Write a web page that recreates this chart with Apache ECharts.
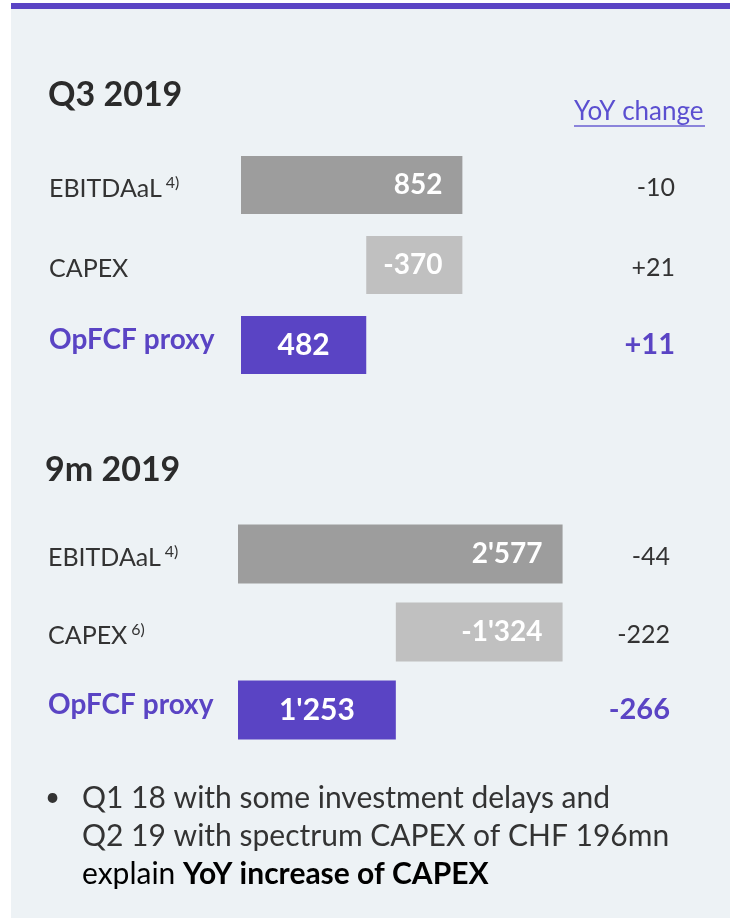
<!DOCTYPE html>
<html>
<head>
<meta charset="utf-8">
<script src="https://cdn.jsdelivr.net/npm/echarts@6/dist/echarts.min.js"></script>
<style>
html, body { margin: 0; padding: 0; background: #fff; }
#main { width: 730px; height: 918px; }
</style>
</head>
<body>
<div id="main"></div>
<script>
// rows of both waterfalls
var rowNames = ['EBITDAaL', 'CAPEX', 'OpFCF proxy'];
var rowKinds = ['start', 'delta', 'total'];

// Q3 2019
var q3Notes = ['4)', '', ''];
var q3Values = [852, -370, 482];
var q3Yoy = ['-10', '+21', '+11'];

// 9m 2019
var m9Notes = ['4)', '6)', ''];
var m9Values = [2577, -1324, 1253];
var m9Yoy = ['-44', '-222', '-266'];

var bulletLines = ['Q1 18 with some investment delays and', 'Q2 19 with spectrum CAPEX of CHF 196mn'];

var FONT = 'Lato';
var PURPLE = '#5a44c4';
var barColors = ['#9d9d9d', '#c0c0c0', PURPLE];

function fmt(v) {
	var s = String(Math.abs(v)).replace(/\B(?=(\d{3})+(?!\d))/g, "'");
	return (v < 0 ? '-' : '') + s;
}

// transparent base + visible length for each row
function waterfall(values) {
	var base = [], len = [], run = 0;
	for (var i = 0; i < values.length; i++) {
		var v = values[i];
		if (rowKinds[i] == 'total') {
			base.push(0); len.push(v); run = v;
		} else if (v >= 0) {
			base.push(run); len.push(v); run += v;
		} else {
			run += v; base.push(run); len.push(-v);
		}
	}
	return {base: base, len: len};
}

var labelRich = {
	n: {fontFamily: FONT, fontSize: 25, color: '#333', padding: [8, 0, 0, 0]},
	s: {fontFamily: FONT, fontSize: 16, color: '#333', verticalAlign: 'top', padding: [6, 0, 0, 4]},
	b: {fontFamily: FONT, fontSize: 28, fontWeight: 'bold', color: PURPLE, padding: [0, 0, 10, 0]}
};

function leftAxis(gi, notes, margin) {
	return {
		type: 'category', gridIndex: gi, inverse: true, data: rowNames,
		axisLine: {show: false}, axisTick: {show: false},
		axisLabel: {
			align: 'left', margin: margin,
			formatter: function(v, i) {
				if (rowKinds[i] == 'total') return '{b|' + v + '}';
				return '{n|' + v + '}' + (notes[i] ? '{s|' + notes[i] + '}' : '');
			},
			rich: labelRich
		}
	};
}

function rightAxis(gi, yoy, margin) {
	return {
		type: 'category', gridIndex: gi, inverse: true, position: 'right', data: yoy,
		axisLine: {show: false}, axisTick: {show: false},
		axisLabel: {
			align: 'right', margin: margin,
			formatter: function(v, i) {
				return rowKinds[i] == 'total' ? '{b|' + v + '}' : '{n|' + v + '}';
			},
			rich: {
				n: {fontFamily: FONT, fontSize: 25, color: '#333', padding: [6, 0, 0, 0]},
				b: {fontFamily: FONT, fontSize: 29, fontWeight: 'bold', color: PURPLE}
			}
		}
	};
}

function barSeries(gi, values, stack, barWidth) {
	var wf = waterfall(values);
	var items = [];
	for (var i = 0; i < values.length; i++) {
		var isTotal = rowKinds[i] == 'total';
		items.push({
			value: wf.len[i],
			itemStyle: {color: barColors[i]},
			label: {
				show: true,
				position: isTotal ? 'inside' : 'insideRight',
				distance: 20,
				fontFamily: FONT,
				fontSize: isTotal ? 30 : 28,
				fontWeight: 'bold',
				color: '#fff',
				formatter: fmt(values[i])
			}
		});
	}
	return [
		{type: 'bar', xAxisIndex: gi, yAxisIndex: gi * 2, stack: stack, barWidth: barWidth,
			silent: true, itemStyle: {color: 'transparent'}, data: wf.base},
		{type: 'bar', xAxisIndex: gi, yAxisIndex: gi * 2, stack: stack, barWidth: barWidth,
			data: items}
	];
}

var chart = echarts.init(document.getElementById('main'));

var option = {
	backgroundColor: '#ffffff',
	animation: false,
	grid: [
		{left: 241, width: 330, top: 145, height: 240},
		{left: 238, width: 330, top: 515, height: 234}
	],
	xAxis: [
		{type: 'value', gridIndex: 0, min: 0, max: 1270, show: false},
		{type: 'value', gridIndex: 1, min: 0, max: 2620, show: false}
	],
	yAxis: [
		leftAxis(0, q3Notes, 192),
		rightAxis(0, q3Yoy, 104),
		leftAxis(1, m9Notes, 190),
		rightAxis(1, m9Yoy, 102)
	],
	series: barSeries(0, q3Values, 'q3', 58).concat(barSeries(1, m9Values, 'm9', 59)),
	graphic: [
		{type: 'rect', z: -10, shape: {x: 11, y: 3, width: 719, height: 915}, style: {fill: '#edf2f5'}},
		{type: 'rect', z: -5, shape: {x: 11, y: 3, width: 719, height: 6}, style: {fill: PURPLE}},
		{type: 'text', x: 48, y: 95, style: {text: 'Q3 2019', fill: '#2b2b2b', font: 'bold 34px ' + FONT, verticalAlign: 'middle'}},
		{type: 'text', x: 574, y: 112, style: {text: 'YoY change', fill: '#5b4fd0', font: '26px ' + FONT, verticalAlign: 'middle'}},
		{type: 'line', shape: {x1: 574, y1: 126, x2: 705, y2: 126}, style: {stroke: '#6a5fd2', lineWidth: 1.5}},
		{type: 'text', x: 45, y: 470, style: {text: '9m 2019', fill: '#2b2b2b', font: 'bold 34px ' + FONT, verticalAlign: 'middle'}},
		{type: 'text', x: 45, y: 798, style: {text: '•', fill: '#333', font: '26px ' + FONT, verticalAlign: 'middle'}},
		{type: 'text', x: 82, y: 798, style: {text: bulletLines[0], fill: '#333', font: '30px ' + FONT, verticalAlign: 'middle'}},
		{type: 'text', x: 82, y: 836, style: {text: bulletLines[1], fill: '#333', font: '30px ' + FONT, verticalAlign: 'middle'}},
		{type: 'text', x: 82, y: 874, style: {
			text: '{r|explain }{b|YoY increase of CAPEX}', verticalAlign: 'middle',
			rich: {
				r: {fontFamily: FONT, fontSize: 30, color: '#333'},
				b: {fontFamily: FONT, fontSize: 30, fontWeight: 'bold', color: '#2b2b2b'}
			}
		}}
	]
};

chart.setOption(option);
</script>
</body>
</html>
